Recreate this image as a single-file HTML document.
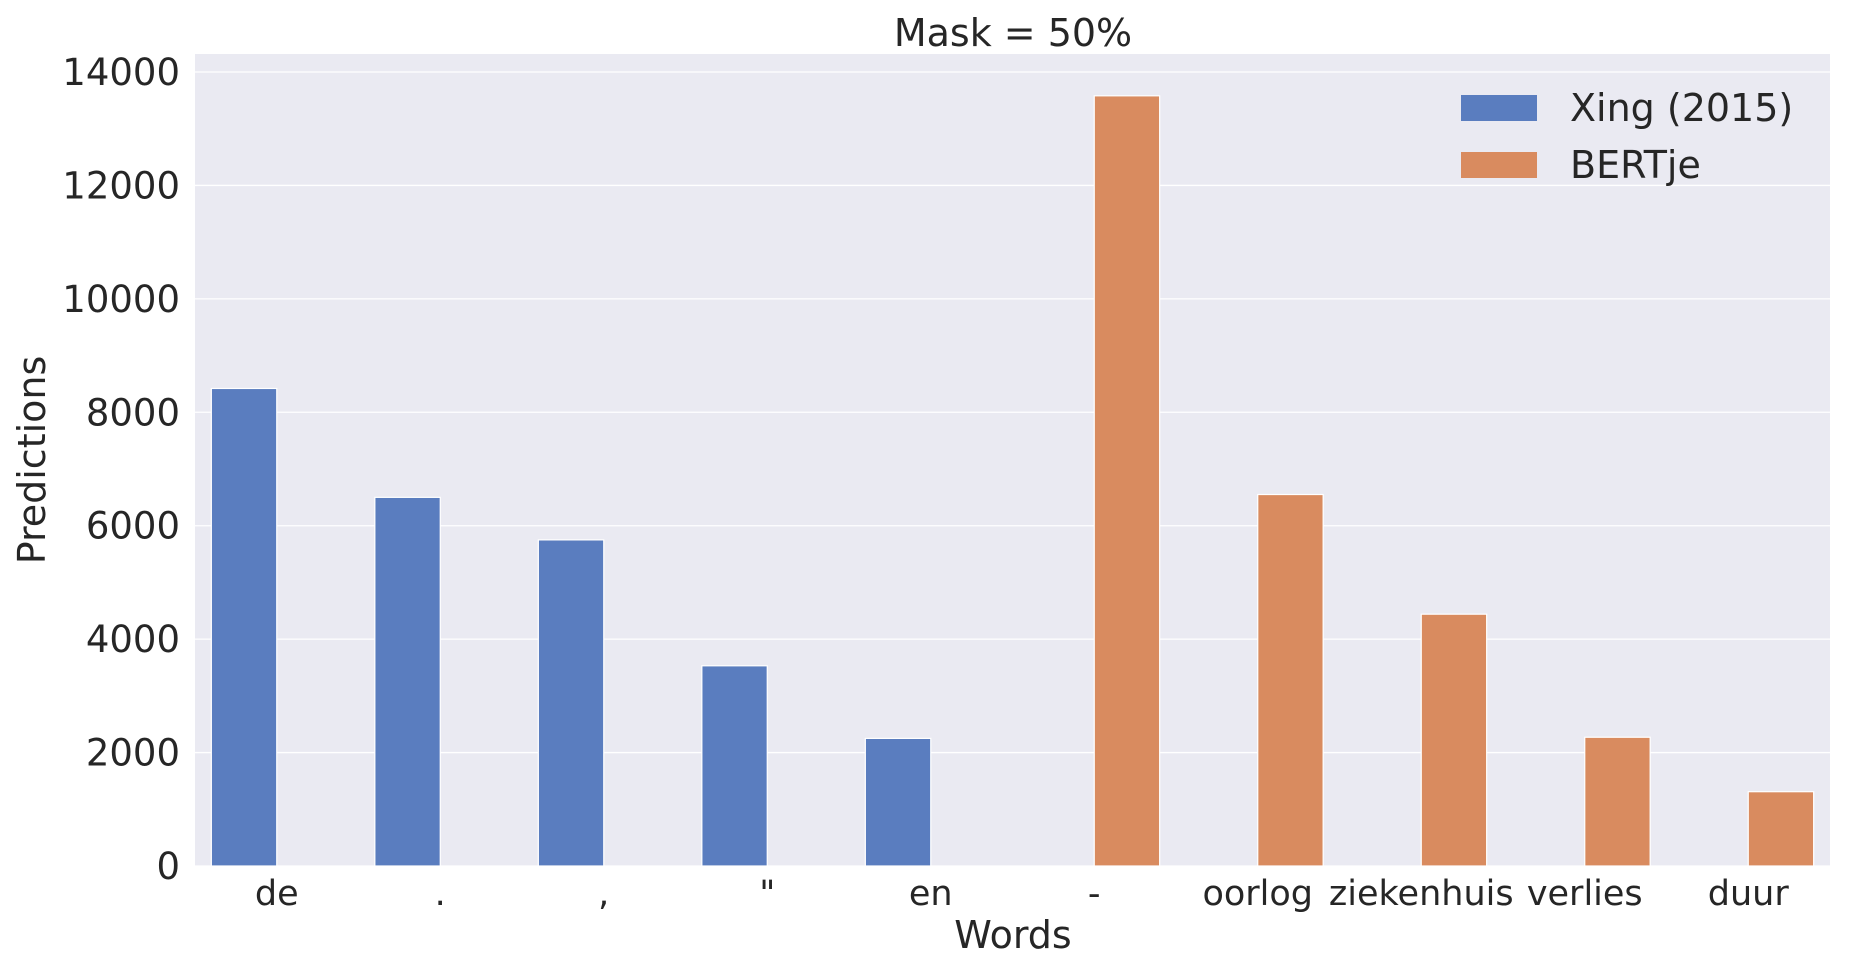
<!DOCTYPE html>
<html><head><meta charset="utf-8"><style>
body{margin:0;background:#fff;}
svg text{font-family:"DejaVu Sans","Liberation Sans",sans-serif;fill:#262626;}
</style></head><body>
<svg id="chart" width="1853" height="964" xmlns="http://www.w3.org/2000/svg">
<rect x="195" y="54" width="1635" height="812" fill="#EAEAF2"/>
<g id="grid"></g>
<g id="bars"></g>
<g id="ticks"></g>
<text x="1013" y="46" font-size="38" text-anchor="middle">Mask = 50%</text>
<text x="1013" y="948" font-size="38" text-anchor="middle">Words</text>
<text transform="translate(45,460) rotate(-90)" font-size="38" text-anchor="middle">Predictions</text>
<g>
<rect x="1461" y="95" width="76" height="26" fill="#5A7DBF"/>
<text x="1570" y="121" font-size="38">Xing (2015)</text>
<rect x="1461" y="152" width="76" height="26" fill="#D98B5F"/>
<text x="1570" y="178" font-size="38">BERTje</text>
</g>
</svg>
<script>
const categories=["de",".",",","\"","en","-","oorlog","ziekenhuis","verlies","duur"];
const xingValues=[8420,6500,5750,3530,2250,0,0,0,0,0];
const bertjeValues=[0,0,0,0,0,13580,6550,4440,2270,1310];
const yTicks=[0,2000,4000,6000,8000,10000,12000,14000];
const NS="http://www.w3.org/2000/svg";
const L=195,R=1830,Y0=866,PX=(866-72)/14000;
const step=(R-L)/categories.length;
function xc(i){return L+step*(i+0.5);}
function y(v){return Y0-v*PX;}
function mk(t,a,p){const e=document.createElementNS(NS,t);for(const k in a)e.setAttribute(k,a[k]);p.appendChild(e);return e;}
const grid=document.getElementById('grid'),bars=document.getElementById('bars'),ticks=document.getElementById('ticks');
yTicks.forEach(v=>{
 const l=mk('line',{x1:L,x2:R,y1:y(v),y2:y(v),stroke:'#fff','stroke-width':1.3},grid);
 
 
 const t=mk('text',{x:180,y:y(v)+13,'font-size':37,'text-anchor':'end'},ticks);
 t.textContent=v;
 
 
});
const bw=step*0.4;
categories.forEach((c,i)=>{
 if(xingValues[i]>0){
  const b=mk('rect',{x:xc(i)-bw,y:y(xingValues[i]),width:bw,height:Y0-y(xingValues[i]),fill:'#5A7DBF',stroke:'#fff','stroke-width':1.2},bars);
  
  
 }
 if(bertjeValues[i]>0){
  const b=mk('rect',{x:xc(i),y:y(bertjeValues[i]),width:bw,height:Y0-y(bertjeValues[i]),fill:'#D98B5F',stroke:'#fff','stroke-width':1.2},bars);
  
  
 }
 const t=mk('text',{x:xc(i),y:905,'font-size':35,'text-anchor':'middle'},ticks);
 t.textContent=c;
 
 
});
</script>
</body></html>
